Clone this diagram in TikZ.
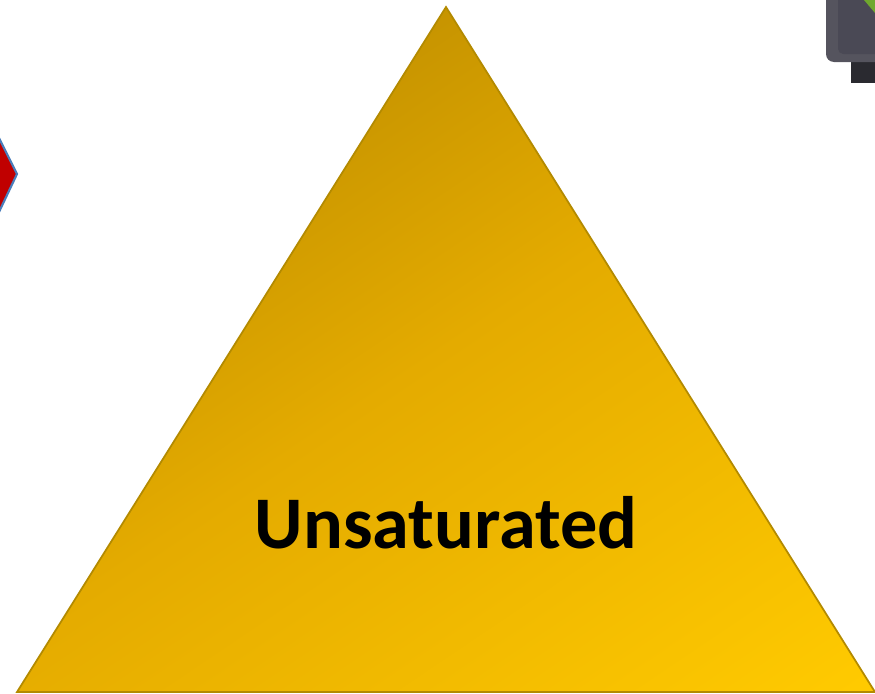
\documentclass[tikz,border=0pt]{standalone}
\usepackage{fontspec}
\setmainfont{Carlito}
\definecolor{golddark}{HTML}{C59300}
\definecolor{goldmid}{HTML}{E4AB00}
\definecolor{goldlight}{HTML}{FFCA00}
\definecolor{goldedge}{HTML}{B38A00}
\definecolor{redfill}{HTML}{C00000}
\definecolor{blueedge}{HTML}{4A7EBB}
\definecolor{bodygray}{HTML}{4A4955}
\definecolor{bodyedge}{HTML}{55545E}
\definecolor{footgray}{HTML}{2A2A30}
\definecolor{bodygreen}{HTML}{6FA82E}
\pgfdeclareverticalshading{goldramp}{100bp}{color(0bp)=(goldlight); color(16bp)=(goldlight); color(50bp)=(goldmid); color(70bp)=(golddark); color(100bp)=(golddark)}
\tikzset{
  px/.style={x=0.75pt,y=-0.75pt},
  label text/.style={font=\bfseries\fontsize{55.7}{62}\selectfont,text=black,inner sep=0pt,anchor=center},
}
\begin{document}
\begin{tikzpicture}[px]
\useasboundingbox (0,0) rectangle (875,693);
% icon
\begin{scope}
\clip (0,0) rectangle (875,693);
\fill[footgray] (851,55) rectangle (880,83);
\fill[bodyedge,rounded corners=6pt] (826,-20) -- (826,62) -- (885,62) -- (885,-20) -- cycle;
\fill[bodygray,rounded corners=4pt] (838,-20) -- (838,54) -- (885,54) -- (885,-20) -- cycle;
\fill[bodygreen] (864,0) -- (875,0) -- (875,13) -- cycle;
% diamond
\filldraw[fill=redfill,draw=blueedge,line width=1.6pt] (-40,71) -- (-1,138) -- (17,174) -- (-1,212) -- (-40,277) -- cycle;
\end{scope}
% triangle
\path[draw=goldedge,line width=1.3pt,shading=goldramp,shading angle=34]
  (446,7) -- (875,692) -- (17,692) -- cycle;
\node[label text] (lbl) at (446,523) {Unsaturated};
\end{tikzpicture}
\end{document}
